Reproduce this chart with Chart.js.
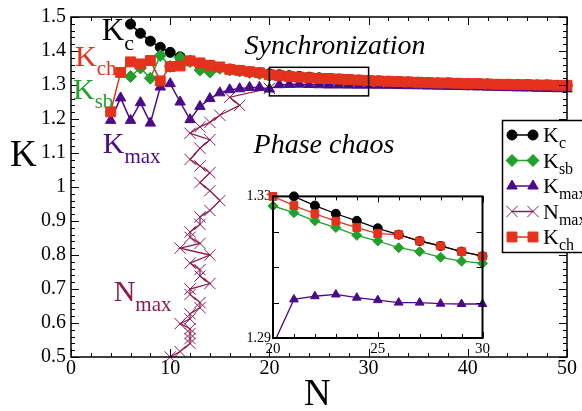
<!DOCTYPE html>
<html>
<head>
<meta charset="utf-8">
<script src="https://cdn.jsdelivr.net/npm/chart.js@4.4.0/dist/chart.umd.min.js"></script>
<style>
  html, body { margin: 0; padding: 0; background: #fff; }
  #wrap { position: relative; width: 582px; height: 411px; overflow: hidden; }
  #main { position: absolute; left: 0; top: 0; }
  #inset { position: absolute; left: 240px; top: 186px; }
</style>
</head>
<body>
<div id="wrap">
  <canvas id="main" width="582" height="411"></canvas>
  <canvas id="inset" width="252" height="172"></canvas>
</div>
<script>
// --- datos ---
const nValues = [4, 5, 6, 7, 8, 9, 10, 11, 12, 13, 14, 15, 16, 17, 18, 19, 20,
  21, 22, 23, 24, 25, 26, 27, 28, 29, 30, 31, 32, 33, 34, 35, 36, 37, 38, 39, 40,
  41, 42, 43, 44, 45, 46, 47, 48, 49, 50];

const kc = [null, null, 1.479, 1.452, 1.429, 1.411, 1.396, 1.383, 1.371, 1.364, 1.358, 1.352, 1.347, 1.343, 1.339, 1.336, 1.3328,
  1.330, 1.3274, 1.3251, 1.3231, 1.3210, 1.3192, 1.3174, 1.3160, 1.3144, 1.3131, 1.312, 1.311, 1.310, 1.309, 1.308, 1.307, 1.306, 1.306, 1.305, 1.304,
  1.304, 1.303, 1.302, 1.302, 1.301, 1.301, 1.300, 1.300, 1.299, 1.299];

const kch = [1.221, 1.337, 1.368, 1.362, 1.372, 1.312, 1.354, 1.356, 1.371, 1.365, 1.358, 1.353, 1.346, 1.343, 1.339, 1.336, 1.330,
  1.3274, 1.3251, 1.3230, 1.3212, 1.3195, 1.3192, 1.3174, 1.3160, 1.3144, 1.3131, 1.312, 1.311, 1.310, 1.309, 1.308, 1.307, 1.306, 1.306, 1.305, 1.304,
  1.304, 1.303, 1.302, 1.302, 1.301, 1.301, 1.300, 1.300, 1.299, 1.299];

const ksb = [null, null, 1.325, 1.350, 1.320, 1.387, 1.355, 1.381, 1.369, 1.344, 1.338, 1.349, 1.344, 1.341, 1.337, 1.333, 1.3273,
  1.3254, 1.3231, 1.3212, 1.3190, 1.3174, 1.3155, 1.3144, 1.3128, 1.3117, 1.3111, 1.310, 1.309, 1.308, 1.307, 1.306, 1.305, 1.304, 1.304, 1.303, 1.302,
  1.302, 1.301, 1.300, 1.300, 1.299, 1.299, 1.298, 1.298, 1.297, 1.297];

const kmax = [1.196, 1.262, 1.196, 1.248, 1.188, 1.294, 1.304, 1.250, 1.198, 1.237, 1.260, 1.277, 1.286, 1.289, 1.293, 1.293, 1.288,
  1.3009, 1.3018, 1.3023, 1.3014, 1.3007, 1.3000, 1.3000, 1.2997, 1.2996, 1.2996, 1.2993, 1.2990, 1.2986, 1.2980, 1.2976, 1.2970, 1.2965, 1.2960, 1.2955, 1.2950,
  1.2943, 1.2936, 1.2930, 1.2922, 1.2915, 1.2910, 1.2903, 1.2896, 1.2890, 1.2885];

// N_max: eje x = N, eje y = K
const nmaxN = [10, 11, 12, 12, 12, 12, 11, 12, 12, 13, 13, 12, 12, 14, 13, 13, 12, 14, 11, 13,
  12, 12, 13, 13, 14, 15, 14, 13, 14, 13, 12, 13, 14, 12, 13, 14, 15, 17, 16, 20];
const nmaxK = [0.500, 0.516, 0.540, 0.554, 0.569, 0.583, 0.598, 0.612, 0.627, 0.645, 0.660, 0.684, 0.700, 0.716, 0.738, 0.757, 0.776, 0.800, 0.820, 0.834,
  0.852, 0.868, 0.890, 0.912, 0.931, 0.960, 0.989, 1.013, 1.042, 1.062, 1.081, 1.114, 1.139, 1.158, 1.177, 1.190, 1.211, 1.240, 1.264, 1.290];

const xTicksMain = [0, 10, 20, 30, 40, 50];
const xTicksInset = [20, 25, 30];
const yTicksInset = [1.29, 1.33];

// recuadro de zoom dibujado en el gráfico principal
const ZOOM_BOX = { n0: 20, n1: 30, k0: 1.268, k1: 1.352 };

// una sola familia: con lista de respaldo el canvas cae en sans
const SERIF = '"Liberation Serif"';
const COL = {
  kc: '#000000',
  ksb: '#22a02a',
  kmax: '#4b0a8c',
  nmax: '#8c1a50',
  kch: '#e4321c'
};

function puntos(vals) {
  return nValues.map((n, i) => ({ x: n, y: vals[i] })).filter(p => p.y !== null);
}

function serie(data, color, estilo, radio, orden, extra) {
  return Object.assign({
    data: data,
    showLine: true,
    borderColor: color,
    backgroundColor: color,
    borderWidth: 1.5,
    pointStyle: estilo,
    pointRadius: radio,
    pointBackgroundColor: color,
    pointBorderColor: color,
    pointBorderWidth: 1,
    order: orden,
    clip: false
  }, extra || {});
}

// ---- marco con marcas hacia dentro ----
const marcoPlugin = {
  id: 'marco',
  beforeDatasetsDraw(chart, args, o) {
    const a = chart.chartArea, ctx = chart.ctx;
    if (o.fondo) {
      ctx.save();
      ctx.fillStyle = '#fff';
      ctx.fillRect(a.left, a.top, a.right - a.left, a.bottom - a.top);
      ctx.restore();
    }
  },
  afterDatasetsDraw(chart, args, o) {
    const a = chart.chartArea, ctx = chart.ctx;
    const xs = chart.scales.x, ys = chart.scales.y;
    ctx.save();
    ctx.strokeStyle = '#000';
    ctx.lineWidth = o.ancho;
    ctx.strokeRect(a.left, a.top, a.right - a.left, a.bottom - a.top);
    ctx.lineWidth = 1;
    ctx.beginPath();
    let n = Math.round((xs.max - xs.min) / o.xMenor);
    for (let i = 0; i <= n; i++) {
      const v = xs.min + i * o.xMenor;
      const r = v / o.xMayor;
      const L = Math.abs(r - Math.round(r)) < 1e-6 ? o.largo : o.corto;
      const px = Math.round(xs.getPixelForValue(v)) + 0.5;
      ctx.moveTo(px, a.bottom); ctx.lineTo(px, a.bottom - L);
      ctx.moveTo(px, a.top); ctx.lineTo(px, a.top + L);
    }
    n = Math.round((ys.max - ys.min) / o.yMenor);
    for (let i = 0; i <= n; i++) {
      const v = ys.min + i * o.yMenor;
      const r = v / o.yMayor;
      const L = Math.abs(r - Math.round(r)) < 1e-6 ? o.largo : o.corto;
      const py = Math.round(ys.getPixelForValue(v)) + 0.5;
      ctx.moveTo(a.left, py); ctx.lineTo(a.left + L, py);
      ctx.moveTo(a.right, py); ctx.lineTo(a.right - L, py);
    }
    ctx.stroke();
    ctx.restore();
  }
};

function textoSub(ctx, x, y, base, sub, color, t1, t2, baja) {
  ctx.fillStyle = color;
  ctx.textAlign = 'left';
  ctx.textBaseline = 'alphabetic';
  ctx.font = t1 + 'px ' + SERIF;
  ctx.fillText(base, x, y);
  const w = ctx.measureText(base).width;
  ctx.font = t2 + 'px ' + SERIF;
  ctx.fillText(sub, x + w, y + baja);
}

// ---- textos, recuadro y leyenda del principal ----
const notasPlugin = {
  id: 'notas',
  afterDraw(chart) {
    const ctx = chart.ctx;
    const xs = chart.scales.x, ys = chart.scales.y;
    const P = (n, k) => [xs.getPixelForValue(n), ys.getPixelForValue(k)];
    ctx.save();

    // recuadro del zoom
    const [bx0, by0] = P(ZOOM_BOX.n0, ZOOM_BOX.k1);
    const [bx1, by1] = P(ZOOM_BOX.n1, ZOOM_BOX.k0);
    ctx.strokeStyle = '#000';
    ctx.lineWidth = 1.5;
    ctx.strokeRect(bx0, by0, bx1 - bx0, by1 - by0);

    // etiquetas de las curvas
    let p;
    p = P(3.1, 1.433); textoSub(ctx, p[0], p[1], 'K', 'c', COL.kc, 31, 22, 10);
    p = P(0.4, 1.355); textoSub(ctx, p[0], p[1], 'K', 'ch', COL.kch, 30, 21, 9);
    p = P(0.2, 1.259); textoSub(ctx, p[0], p[1], 'K', 'sb', COL.ksb, 30, 21, 9);
    p = P(3.2, 1.100); textoSub(ctx, p[0], p[1], 'K', 'max', COL.kmax, 30, 21, 10);
    p = P(4.3, 0.665); textoSub(ctx, p[0], p[1], 'N', 'max', COL.nmax, 30, 21, 10);

    ctx.fillStyle = '#000';
    ctx.font = 'italic 28px ' + SERIF;
    p = P(17.5, 1.39); ctx.fillText('Synchronization', p[0], p[1]);
    p = P(18.4, 1.10); ctx.fillText('Phase chaos', p[0], p[1]);

    // títulos de ejes
    ctx.font = '37px ' + SERIF;
    ctx.fillText('K', 10, 166);
    ctx.fillText('N', 304, 405);

    // leyenda
    const lx = 502.5, ly = 120.5;
    ctx.fillStyle = '#fff';
    ctx.fillRect(lx, ly, 100, 132);
    ctx.strokeStyle = '#000';
    ctx.lineWidth = 1.5;
    ctx.strokeRect(lx, ly, 100, 132);
    const items = [
      ['K', 'c', COL.kc, 'circle', 5],
      ['K', 'sb', COL.ksb, 'rectRot', 6],
      ['K', 'max', COL.kmax, 'triangle', 6],
      ['N', 'max', COL.nmax, 'crossRot', 8],
      ['K', 'ch', COL.kch, 'rect', 7]
    ];
    items.forEach((it, i) => {
      const y = 135 + i * 25.5;
      ctx.strokeStyle = it[2];
      ctx.fillStyle = it[2];
      ctx.lineWidth = 1.5;
      ctx.beginPath(); ctx.moveTo(512, y); ctx.lineTo(533, y); ctx.stroke();
      [512, 533].forEach(x => {
        ctx.lineWidth = 1;
        Chart.helpers.drawPoint(ctx, { pointStyle: it[3], radius: it[4], rotation: 0, borderWidth: 1 }, x, y);
      });
      textoSub(ctx, 543, y + 7, it[0], it[1], '#000', 22, 16, 6);
    });
    ctx.restore();
  }
};

function dibujar() {
  const tickFont = { family: SERIF, size: 20 };

  new Chart(document.getElementById('main'), {
    type: 'scatter',
    data: {
      datasets: [
        serie(puntos(kc), COL.kc, 'circle', 5, 5),
        serie(puntos(ksb), COL.ksb, 'rectRot', 6, 4),
        serie(nmaxN.map((n, i) => ({ x: n, y: nmaxK[i] })), COL.nmax, 'crossRot', 8, 3, { borderWidth: 1.3 }),
        serie(puntos(kmax), COL.kmax, 'triangle', 6, 2),
        serie(puntos(kch), COL.kch, 'rect', 7, 1)
      ]
    },
    options: {
      responsive: false,
      animation: false,
      devicePixelRatio: 1,
      layout: { padding: { left: 0, top: 12, right: 15, bottom: 0 } },
      plugins: {
        legend: { display: false },
        tooltip: { enabled: false },
        marco: { ancho: 1.5, xMayor: 10, xMenor: 2, yMayor: 0.1, yMenor: 0.02, largo: 8, corto: 4 }
      },
      scales: {
        x: {
          type: 'linear', min: 0, max: 50,
          afterFit: s => { s.height = 54; },
          afterBuildTicks: s => { s.ticks = xTicksMain.map(v => ({ value: v })); },
          grid: { display: false, drawTicks: false },
          border: { display: false },
          ticks: { padding: 0, color: '#000', font: tickFont, maxRotation: 0 }
        },
        y: {
          type: 'linear', min: 0.5, max: 1.5,
          afterFit: s => { s.width = 71; },
          grid: { display: false, drawTicks: false },
          border: { display: false },
          ticks: { stepSize: 0.1, padding: 5, color: '#000', font: tickFont, callback: v => String(+v.toFixed(2)) }
        }
      }
    },
    plugins: [marcoPlugin, notasPlugin]
  });

  // ---- gráfico insertado (zoom N 20-30) ----
  function enRango(vals) {
    return puntos(vals).filter(p => p.x >= 20 && p.x <= 30 && p.y >= 1.29 - 1e-9 && p.y <= 1.33 + 1e-9);
  }
  function lineaInset(vals, color, orden) {
    return { data: puntos(vals).filter(p => p.x >= 19 && p.x <= 31), showLine: true, borderColor: color,
      borderWidth: 1.3, pointRadius: 0, order: orden, clip: 0 };
  }
  function marcasInset(vals, color, estilo, radio, orden) {
    return { data: enRango(vals), showLine: false, backgroundColor: color, borderColor: color,
      pointStyle: estilo, pointRadius: radio, pointBorderWidth: 1, order: orden, clip: false };
  }

  new Chart(document.getElementById('inset'), {
    type: 'scatter',
    data: {
      datasets: [
        lineaInset(kc, COL.kc, 10), lineaInset(ksb, COL.ksb, 10), lineaInset(kmax, COL.kmax, 10), lineaInset(kch, COL.kch, 10),
        marcasInset(kc, COL.kc, 'circle', 4.5, 4),
        marcasInset(ksb, COL.ksb, 'rectRot', 5, 3),
        marcasInset(kmax, COL.kmax, 'triangle', 5, 2),
        marcasInset(kch, COL.kch, 'rect', 5.5, 1)
      ]
    },
    options: {
      responsive: false,
      animation: false,
      devicePixelRatio: 1,
      layout: { padding: { left: 0, top: 6, right: 5, bottom: 0 } },
      plugins: {
        legend: { display: false },
        tooltip: { enabled: false },
        marco: { fondo: true, ancho: 2, xMayor: 5, xMenor: 1, yMayor: 0.01, yMenor: 0.01, largo: 6, corto: 4 }
      },
      scales: {
        x: {
          type: 'linear', min: 20, max: 30,
          afterFit: s => { s.height = 20; },
          afterBuildTicks: s => { s.ticks = xTicksInset.map(v => ({ value: v })); },
          grid: { display: false, drawTicks: false },
          border: { display: false },
          ticks: { padding: 2, color: '#000', font: { family: SERIF, size: 15 }, maxRotation: 0 }
        },
        y: {
          type: 'linear', min: 1.29, max: 1.33,
          afterFit: s => { s.width = 33; },
          afterBuildTicks: s => { s.ticks = yTicksInset.map(v => ({ value: v })); },
          grid: { display: false, drawTicks: false },
          border: { display: false },
          ticks: { padding: 2, color: '#000', font: { family: SERIF, size: 14 }, callback: v => v.toFixed(2) }
        }
      }
    },
    plugins: [marcoPlugin]
  });
}

// esperar a las fuentes locales antes de pintar
Promise.all([
  document.fonts.load('20px "Liberation Serif"'),
  document.fonts.load('italic 28px "Liberation Serif"')
]).then(dibujar, dibujar);
</script>
</body>
</html>
